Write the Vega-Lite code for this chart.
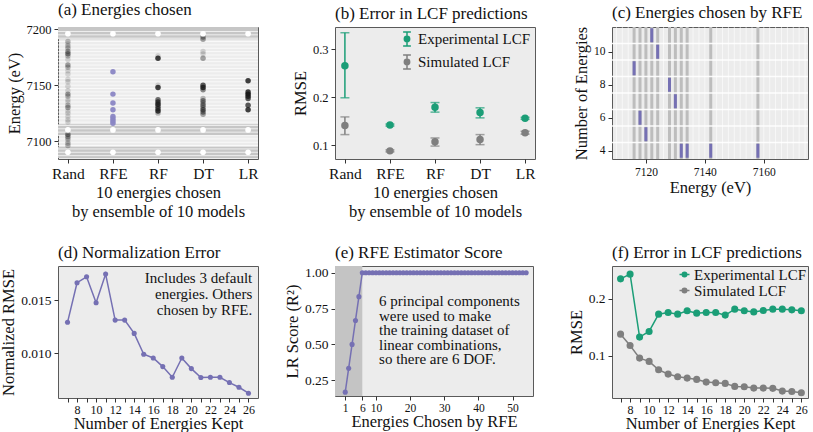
{
  "$schema": "https://vega.github.io/schema/vega-lite/v6.json",
  "padding": {"left": 0, "top": 0, "right": 2, "bottom": 0},
  "background": "white",
  "config": {
    "font": "Liberation Serif",
    "view": {"fill": "#ececec", "stroke": "#5a5a5a", "strokeWidth": 1},
    "axis": {"grid": false, "domain": false, "tickColor": "#333333", "tickSize": 4, "labelFont": "Liberation Serif", "titleFont": "Liberation Serif", "labelColor": "#111111", "titleColor": "#111111", "titleFontWeight": "normal", "titleFontSize": 16.5, "labelFontSize": 13, "labelPadding": 3, "titlePadding": 4, "labelOverlap": false},
    "title": {"font": "Liberation Serif", "fontSize": 17, "fontWeight": "normal", "anchor": "start", "frame": "group", "offset": 0, "color": "#111111"},
    "legend": {"labelFont": "Liberation Serif", "labelFontSize": 15, "labelColor": "#111111", "title": null}
  },
  "resolve": {
    "scale": {"color": "independent", "fill": "independent", "stroke": "independent", "opacity": "independent"},
    "legend": {"color": "independent", "fill": "independent", "stroke": "independent", "opacity": "independent"}
  },
  "datasets": {
    "aBands": [{"lo": 7085, "hi": 7095}, {"lo": 7105, "hi": 7115}, {"lo": 7191, "hi": 7202}],
    "aLines": [{"e": 7087}, {"e": 7090}, {"e": 7093}, {"e": 7096}, {"e": 7099}, {"e": 7102}, {"e": 7105}, {"e": 7108}, {"e": 7111}, {"e": 7114}, {"e": 7117}, {"e": 7120}, {"e": 7123}, {"e": 7126}, {"e": 7129}, {"e": 7132}, {"e": 7135}, {"e": 7138}, {"e": 7141}, {"e": 7144}, {"e": 7147}, {"e": 7150}, {"e": 7153}, {"e": 7156}, {"e": 7159}, {"e": 7162}, {"e": 7165}, {"e": 7168}, {"e": 7171}, {"e": 7174}, {"e": 7177}, {"e": 7180}, {"e": 7183}, {"e": 7186}, {"e": 7189}, {"e": 7192}, {"e": 7195}, {"e": 7198}],
    "aPts": [
      {"m": "Rand", "e": 7189, "n": 2}, {"m": "Rand", "e": 7187, "n": 1}, {"m": "Rand", "e": 7185, "n": 2}, {"m": "Rand", "e": 7183, "n": 2}, {"m": "Rand", "e": 7180, "n": 3}, {"m": "Rand", "e": 7178, "n": 4}, {"m": "Rand", "e": 7176, "n": 2}, {"m": "Rand", "e": 7173, "n": 1}, {"m": "Rand", "e": 7168, "n": 3}, {"m": "Rand", "e": 7166, "n": 2}, {"m": "Rand", "e": 7163, "n": 1}, {"m": "Rand", "e": 7160, "n": 1}, {"m": "Rand", "e": 7155, "n": 1}, {"m": "Rand", "e": 7153, "n": 1}, {"m": "Rand", "e": 7149, "n": 1}, {"m": "Rand", "e": 7145, "n": 1}, {"m": "Rand", "e": 7142, "n": 3}, {"m": "Rand", "e": 7140, "n": 2}, {"m": "Rand", "e": 7137, "n": 1}, {"m": "Rand", "e": 7135, "n": 1}, {"m": "Rand", "e": 7132, "n": 2}, {"m": "Rand", "e": 7130, "n": 3}, {"m": "Rand", "e": 7127, "n": 1}, {"m": "Rand", "e": 7125, "n": 1}, {"m": "Rand", "e": 7122, "n": 1}, {"m": "Rand", "e": 7119, "n": 1}, {"m": "Rand", "e": 7117, "n": 1}, {"m": "Rand", "e": 7106, "n": 4}, {"m": "Rand", "e": 7104, "n": 3}, {"m": "Rand", "e": 7102, "n": 2}, {"m": "Rand", "e": 7100, "n": 1}, {"m": "Rand", "e": 7098, "n": 2}, {"m": "Rand", "e": 7096, "n": 2},
      {"m": "RFE", "e": 7162, "n": 10}, {"m": "RFE", "e": 7142, "n": 10}, {"m": "RFE", "e": 7134, "n": 10}, {"m": "RFE", "e": 7128, "n": 10}, {"m": "RFE", "e": 7122, "n": 10}, {"m": "RFE", "e": 7120, "n": 10}, {"m": "RFE", "e": 7118, "n": 10}, {"m": "RFE", "e": 7116, "n": 10},
      {"m": "RF", "e": 7176, "n": 1}, {"m": "RF", "e": 7174, "n": 7}, {"m": "RF", "e": 7150, "n": 1}, {"m": "RF", "e": 7148, "n": 7}, {"m": "RF", "e": 7137, "n": 5}, {"m": "RF", "e": 7135, "n": 6}, {"m": "RF", "e": 7133, "n": 7}, {"m": "RF", "e": 7131, "n": 5}, {"m": "RF", "e": 7129, "n": 6}, {"m": "RF", "e": 7127, "n": 7}, {"m": "RF", "e": 7125, "n": 2},
      {"m": "DT", "e": 7193, "n": 3}, {"m": "DT", "e": 7191, "n": 3}, {"m": "DT", "e": 7180, "n": 1}, {"m": "DT", "e": 7178, "n": 1}, {"m": "DT", "e": 7174, "n": 3}, {"m": "DT", "e": 7150, "n": 6}, {"m": "DT", "e": 7148, "n": 7}, {"m": "DT", "e": 7146, "n": 4}, {"m": "DT", "e": 7138, "n": 2}, {"m": "DT", "e": 7136, "n": 4}, {"m": "DT", "e": 7134, "n": 3}, {"m": "DT", "e": 7132, "n": 4}, {"m": "DT", "e": 7130, "n": 3}, {"m": "DT", "e": 7128, "n": 5}, {"m": "DT", "e": 7126, "n": 4}, {"m": "DT", "e": 7124, "n": 3},
      {"m": "LR", "e": 7154, "n": 7}, {"m": "LR", "e": 7144, "n": 7}, {"m": "LR", "e": 7142, "n": 8}, {"m": "LR", "e": 7140, "n": 7}, {"m": "LR", "e": 7138, "n": 6}, {"m": "LR", "e": 7132, "n": 6}, {"m": "LR", "e": 7128, "n": 7}
    ],
    "aDef": [
      {"m": "Rand", "e": 7090}, {"m": "Rand", "e": 7110}, {"m": "Rand", "e": 7196},
      {"m": "RFE", "e": 7090}, {"m": "RFE", "e": 7110}, {"m": "RFE", "e": 7196},
      {"m": "RF", "e": 7090}, {"m": "RF", "e": 7110}, {"m": "RF", "e": 7196},
      {"m": "DT", "e": 7090}, {"m": "DT", "e": 7110}, {"m": "DT", "e": 7196},
      {"m": "LR", "e": 7090}, {"m": "LR", "e": 7110}, {"m": "LR", "e": 7196}
    ],
    "bData": [
      {"m": "Rand", "s": "Experimental LCF", "v": 0.266, "lo": 0.199, "hi": 0.335},
      {"m": "RFE", "s": "Experimental LCF", "v": 0.142, "lo": 0.140, "hi": 0.144},
      {"m": "RF", "s": "Experimental LCF", "v": 0.179, "lo": 0.169, "hi": 0.189},
      {"m": "DT", "s": "Experimental LCF", "v": 0.168, "lo": 0.157, "hi": 0.178},
      {"m": "LR", "s": "Experimental LCF", "v": 0.156, "lo": 0.154, "hi": 0.158},
      {"m": "Rand", "s": "Simulated LCF", "v": 0.141, "lo": 0.122, "hi": 0.159},
      {"m": "RFE", "s": "Simulated LCF", "v": 0.088, "lo": 0.086, "hi": 0.090},
      {"m": "RF", "s": "Simulated LCF", "v": 0.107, "lo": 0.098, "hi": 0.115},
      {"m": "DT", "s": "Simulated LCF", "v": 0.112, "lo": 0.101, "hi": 0.122},
      {"m": "LR", "s": "Simulated LCF", "v": 0.126, "lo": 0.123, "hi": 0.129}
    ],
    "cGrid": [{"e": 7110}, {"e": 7112}, {"e": 7114}, {"e": 7116}, {"e": 7118}, {"e": 7120}, {"e": 7122}, {"e": 7124}, {"e": 7126}, {"e": 7128}, {"e": 7130}, {"e": 7132}, {"e": 7134}, {"e": 7136}, {"e": 7138}, {"e": 7140}, {"e": 7142}, {"e": 7144}, {"e": 7146}, {"e": 7148}, {"e": 7150}, {"e": 7152}, {"e": 7154}, {"e": 7156}, {"e": 7158}, {"e": 7160}, {"e": 7162}, {"e": 7164}, {"e": 7166}, {"e": 7168}, {"e": 7170}, {"e": 7172}, {"e": 7174}],
    "cSel": [{"e": 7132, "n": 4}, {"e": 7134, "n": 4}, {"e": 7142, "n": 4}, {"e": 7158, "n": 4}, {"e": 7120, "n": 5}, {"e": 7118, "n": 6}, {"e": 7130, "n": 7}, {"e": 7128, "n": 8}, {"e": 7116, "n": 9}, {"e": 7124, "n": 10}, {"e": 7122, "n": 11}],
    "cRows": [{"y": 4.5}, {"y": 5.5}, {"y": 6.5}, {"y": 7.5}, {"y": 8.5}, {"y": 9.5}, {"y": 10.5}],
    "dData": [
      {"k": 7, "v": 0.01291}, {"k": 8, "v": 0.01663}, {"k": 9, "v": 0.01719}, {"k": 10, "v": 0.01475}, {"k": 11, "v": 0.01744}, {"k": 12, "v": 0.01312}, {"k": 13, "v": 0.01312}, {"k": 14, "v": 0.01187}, {"k": 15, "v": 0.00991}, {"k": 16, "v": 0.00956}, {"k": 17, "v": 0.00875}, {"k": 18, "v": 0.00775}, {"k": 19, "v": 0.00956}, {"k": 20, "v": 0.00856}, {"k": 21, "v": 0.00772}, {"k": 22, "v": 0.00775}, {"k": 23, "v": 0.00775}, {"k": 24, "v": 0.00725}, {"k": 25, "v": 0.00681}, {"k": 26, "v": 0.00625}
    ],
    "dText": [{"x": 26.4, "y": 0.01775, "t": "Includes 3 default\nenergies. Others\nchosen by RFE."}],
    "eShade": [{"lo": -2, "hi": 6}],
    "eData": [
      {"k": 1, "v": 0.167}, {"k": 2, "v": 0.333}, {"k": 3, "v": 0.5}, {"k": 4, "v": 0.667}, {"k": 5, "v": 0.833}, {"k": 6, "v": 1}, {"k": 7, "v": 1}, {"k": 8, "v": 1}, {"k": 9, "v": 1}, {"k": 10, "v": 1}, {"k": 11, "v": 1}, {"k": 12, "v": 1}, {"k": 13, "v": 1}, {"k": 14, "v": 1}, {"k": 15, "v": 1}, {"k": 16, "v": 1}, {"k": 17, "v": 1}, {"k": 18, "v": 1}, {"k": 19, "v": 1}, {"k": 20, "v": 1}, {"k": 21, "v": 1}, {"k": 22, "v": 1}, {"k": 23, "v": 1}, {"k": 24, "v": 1}, {"k": 25, "v": 1}, {"k": 26, "v": 1}, {"k": 27, "v": 1}, {"k": 28, "v": 1}, {"k": 29, "v": 1}, {"k": 30, "v": 1}, {"k": 31, "v": 1}, {"k": 32, "v": 1}, {"k": 33, "v": 1}, {"k": 34, "v": 1}, {"k": 35, "v": 1}, {"k": 36, "v": 1}, {"k": 37, "v": 1}, {"k": 38, "v": 1}, {"k": 39, "v": 1}, {"k": 40, "v": 1}, {"k": 41, "v": 1}, {"k": 42, "v": 1}, {"k": 43, "v": 1}, {"k": 44, "v": 1}, {"k": 45, "v": 1}, {"k": 46, "v": 1}, {"k": 47, "v": 1}, {"k": 48, "v": 1}, {"k": 49, "v": 1}, {"k": 50, "v": 1}, {"k": 51, "v": 1}, {"k": 52, "v": 1}, {"k": 53, "v": 1}, {"k": 54, "v": 1}
    ],
    "eText": [{"x": 10.9, "y": 0.85, "t": "6 principal components\nwere used to make\nthe training dataset of\nlinear combinations,\nso there are 6 DOF."}],
    "fData": [
      {"k": 7, "s": "Experimental LCF", "v": 0.2353}, {"k": 8, "s": "Experimental LCF", "v": 0.2436}, {"k": 9, "s": "Experimental LCF", "v": 0.1325}, {"k": 10, "s": "Experimental LCF", "v": 0.1425}, {"k": 11, "s": "Experimental LCF", "v": 0.173}, {"k": 12, "s": "Experimental LCF", "v": 0.176}, {"k": 13, "s": "Experimental LCF", "v": 0.173}, {"k": 14, "s": "Experimental LCF", "v": 0.1789}, {"k": 15, "s": "Experimental LCF", "v": 0.1748}, {"k": 16, "s": "Experimental LCF", "v": 0.176}, {"k": 17, "s": "Experimental LCF", "v": 0.176}, {"k": 18, "s": "Experimental LCF", "v": 0.1713}, {"k": 19, "s": "Experimental LCF", "v": 0.1818}, {"k": 20, "s": "Experimental LCF", "v": 0.1789}, {"k": 21, "s": "Experimental LCF", "v": 0.177}, {"k": 22, "s": "Experimental LCF", "v": 0.1795}, {"k": 23, "s": "Experimental LCF", "v": 0.1818}, {"k": 24, "s": "Experimental LCF", "v": 0.1818}, {"k": 25, "s": "Experimental LCF", "v": 0.1806}, {"k": 26, "s": "Experimental LCF", "v": 0.1789},
      {"k": 7, "s": "Simulated LCF", "v": 0.1377}, {"k": 8, "s": "Simulated LCF", "v": 0.1178}, {"k": 9, "s": "Simulated LCF", "v": 0.0954}, {"k": 10, "s": "Simulated LCF", "v": 0.0896}, {"k": 11, "s": "Simulated LCF", "v": 0.0748}, {"k": 12, "s": "Simulated LCF", "v": 0.0672}, {"k": 13, "s": "Simulated LCF", "v": 0.0624}, {"k": 14, "s": "Simulated LCF", "v": 0.0601}, {"k": 15, "s": "Simulated LCF", "v": 0.0578}, {"k": 16, "s": "Simulated LCF", "v": 0.0531}, {"k": 17, "s": "Simulated LCF", "v": 0.0519}, {"k": 18, "s": "Simulated LCF", "v": 0.0508}, {"k": 19, "s": "Simulated LCF", "v": 0.0455}, {"k": 20, "s": "Simulated LCF", "v": 0.0448}, {"k": 21, "s": "Simulated LCF", "v": 0.0425}, {"k": 22, "s": "Simulated LCF", "v": 0.0425}, {"k": 23, "s": "Simulated LCF", "v": 0.042}, {"k": 24, "s": "Simulated LCF", "v": 0.0372}, {"k": 25, "s": "Simulated LCF", "v": 0.0366}, {"k": 26, "s": "Simulated LCF", "v": 0.0342}
    ]
  },
  "columns": 3,
  "bounds": "flush",
  "spacing": {"row": 107, "column": 77},
  "concat": [
    {
      "width": 200, "height": 132,
      "title": "(a) Energies chosen",
      "layer": [
        {"data": {"name": "aBands"}, "mark": {"type": "rect", "color": "#c6c6c6"},
         "encoding": {
           "y": {"field": "lo", "type": "quantitative", "scale": {"domain": [7084, 7202], "nice": false, "zero": false}, "title": "Energy (eV)", "axis": {"values": [7100, 7150, 7200], "format": "d", "labelFontSize": 12.5}},
           "y2": {"field": "hi"}}},
        {"data": {"name": "aLines"}, "mark": {"type": "rule", "color": "white", "strokeWidth": 1, "opacity": 0.7},
         "encoding": {"y": {"field": "e", "type": "quantitative"}}},
        {"data": {"name": "aPts"}, "mark": {"type": "circle", "size": 30},
         "encoding": {
           "x": {"field": "m", "type": "nominal", "scale": {"type": "point", "domain": ["Rand", "RFE", "RF", "DT", "LR"], "padding": 0.22}, "title": ["10 energies chosen", "by ensemble of 10 models"], "axis": {"labelAngle": 0, "labelFontSize": 15.5, "titleLineHeight": 19, "titlePadding": 3}},
           "y": {"field": "e", "type": "quantitative"},
           "color": {"field": "m", "type": "nominal", "scale": {"domain": ["Rand", "RFE", "RF", "DT", "LR"], "range": ["#1a1a1a", "#8a86c4", "#1a1a1a", "#1a1a1a", "#1a1a1a"]}, "legend": null},
           "opacity": {"field": "n", "type": "quantitative", "scale": {"domain": [1, 8], "range": [0.15, 0.95], "clamp": true}, "legend": null}}},
        {"data": {"name": "aDef"}, "mark": {"type": "circle", "size": 32, "color": "white", "opacity": 1},
         "encoding": {"x": {"field": "m", "type": "nominal"}, "y": {"field": "e", "type": "quantitative"}}}
      ]
    },
    {
      "width": 200, "height": 132,
      "title": "(b) Error in LCF predictions",
      "data": {"name": "bData"},
      "encoding": {
        "x": {"field": "m", "type": "nominal", "scale": {"type": "point", "domain": ["Rand", "RFE", "RF", "DT", "LR"], "padding": 0.22}, "title": ["10 energies chosen", "by ensemble of 10 models"], "axis": {"labelAngle": 0, "labelFontSize": 15.5, "titleLineHeight": 19, "titlePadding": 3}}
      },
      "layer": [
        {"mark": {"type": "rule", "strokeWidth": 1.5},
         "encoding": {
           "y": {"field": "lo", "type": "quantitative", "scale": {"domain": [0.071, 0.347], "nice": false, "zero": false}, "title": "RMSE", "axis": {"values": [0.1, 0.2, 0.3], "format": ".1f", "labelFontSize": 12.5}},
           "y2": {"field": "hi"},
           "stroke": {"field": "s", "type": "nominal", "scale": {"domain": ["Experimental LCF", "Simulated LCF"], "range": ["#1b9e77", "#7f7f7f"]}, "legend": {"orient": "top-right", "offset": 4, "symbolType": "M-0.55,-1H0.55M0,-1V1M-0.55,1H0.55M-0.38,0A0.38,0.38,0,1,1,0.38,0A0.38,0.38,0,1,1,-0.38,0Z", "symbolSize": 200, "symbolStrokeWidth": 1.5, "rowPadding": 1, "labelOffset": 3}}}},
        {"mark": {"type": "tick", "size": 9, "thickness": 1.5},
         "encoding": {"y": {"field": "lo", "type": "quantitative"}, "fill": {"field": "s", "type": "nominal", "scale": {"domain": ["Experimental LCF", "Simulated LCF"], "range": ["#1b9e77", "#7f7f7f"]}, "legend": {"orient": "top-right", "offset": 4, "symbolType": "M-0.55,-1H0.55M0,-1V1M-0.55,1H0.55M-0.38,0A0.38,0.38,0,1,1,0.38,0A0.38,0.38,0,1,1,-0.38,0Z", "symbolSize": 200, "symbolStrokeWidth": 1.5, "rowPadding": 1, "labelOffset": 3}}}},
        {"mark": {"type": "tick", "size": 9, "thickness": 1.5},
         "encoding": {"y": {"field": "hi", "type": "quantitative"}, "fill": {"field": "s", "type": "nominal", "scale": {"domain": ["Experimental LCF", "Simulated LCF"], "range": ["#1b9e77", "#7f7f7f"]}, "legend": {"orient": "top-right", "offset": 4, "symbolType": "M-0.55,-1H0.55M0,-1V1M-0.55,1H0.55M-0.38,0A0.38,0.38,0,1,1,0.38,0A0.38,0.38,0,1,1,-0.38,0Z", "symbolSize": 200, "symbolStrokeWidth": 1.5, "rowPadding": 1, "labelOffset": 3}}}},
        {"mark": {"type": "point", "filled": true, "size": 30, "shape": "circle", "opacity": 1},
         "encoding": {
           "y": {"field": "v", "type": "quantitative"},
           "fill": {"field": "s", "type": "nominal", "scale": {"domain": ["Experimental LCF", "Simulated LCF"], "range": ["#1b9e77", "#7f7f7f"]}, "legend": {"orient": "top-right", "offset": 4, "symbolType": "M-0.55,-1H0.55M0,-1V1M-0.55,1H0.55M-0.38,0A0.38,0.38,0,1,1,0.38,0A0.38,0.38,0,1,1,-0.38,0Z", "symbolSize": 200, "symbolStrokeWidth": 1.5, "rowPadding": 1, "labelOffset": 3}},
           "stroke": {"field": "s", "type": "nominal", "scale": {"domain": ["Experimental LCF", "Simulated LCF"], "range": ["#1b9e77", "#7f7f7f"]}, "legend": {"orient": "top-right", "offset": 4, "symbolType": "M-0.55,-1H0.55M0,-1V1M-0.55,1H0.55M-0.38,0A0.38,0.38,0,1,1,0.38,0A0.38,0.38,0,1,1,-0.38,0Z", "symbolSize": 200, "symbolStrokeWidth": 1.5, "rowPadding": 1, "labelOffset": 3}}}}
      ]
    },
    {
      "width": 196, "height": 132,
      "title": "(c) Energies chosen by RFE",
      "layer": [
        {"data": {"name": "cGrid"}, "mark": {"type": "rule", "color": "white", "strokeWidth": 1, "opacity": 0.6},
         "encoding": {"x": {"field": "e", "type": "quantitative", "scale": {"domain": [7108.5, 7175], "nice": false, "zero": false}, "title": "Energy (eV)", "axis": {"values": [7120, 7140, 7160], "format": "d", "labelFontSize": 11.5, "titlePadding": 2}}}},
        {"data": {"name": "cSel"}, "mark": {"type": "rule", "color": "#bdbdbd", "strokeWidth": 3},
         "encoding": {"x": {"field": "e", "type": "quantitative"}}},
        {"data": {"name": "cRows"}, "mark": {"type": "rule", "color": "white", "strokeWidth": 1.5, "opacity": 0.9},
         "encoding": {"y": {"field": "y", "type": "quantitative", "scale": {"domain": [3.5, 11.5], "nice": false, "zero": false}, "title": "Number of Energies", "axis": {"values": [4, 5, 6, 7, 8, 9, 10, 11], "labelFontSize": 11.5}}}},
        {"data": {"name": "cSel"}, "mark": {"type": "tick", "orient": "vertical", "color": "#7570b3", "size": 14, "thickness": 3, "opacity": 1},
         "encoding": {"x": {"field": "e", "type": "quantitative"}, "y": {"field": "n", "type": "quantitative"}}}
      ]
    },
    {
      "width": 200, "height": 132,
      "title": "(d) Normalization Error",
      "data": {"name": "dData"},
      "encoding": {
        "x": {"field": "k", "type": "quantitative", "scale": {"domain": [6, 27], "nice": false, "zero": false}, "title": "Number of Energies Kept", "axis": {"values": [7, 8, 9, 10, 11, 12, 13, 14, 15, 16, 17, 18, 19, 20, 21, 22, 23, 24, 25, 26], "labelExpr": "datum.value % 2 == 0 ? datum.label : ''", "labelOverlap": false, "labelFontSize": 12, "labelPadding": 2, "titlePadding": 0}},
        "y": {"field": "v", "type": "quantitative", "scale": {"domain": [0.0058, 0.0182], "nice": false, "zero": false}, "title": "Normalized RMSE", "axis": {"values": [0.01, 0.015], "format": ".3f", "labelFontSize": 13.5}}
      },
      "layer": [
        {"mark": {"type": "line", "color": "#7570b3", "strokeWidth": 1.5}},
        {"mark": {"type": "circle", "color": "#7570b3", "size": 26, "opacity": 1}},
        {"data": {"name": "dText"}, "mark": {"type": "text", "align": "right", "baseline": "top", "fontSize": 15, "lineHeight": 16, "lineBreak": "\n", "color": "#111111"},
         "encoding": {"x": {"field": "x", "type": "quantitative"}, "y": {"field": "y", "type": "quantitative"}, "text": {"field": "t"}}}
      ]
    },
    {
      "width": 198, "height": 130,
      "title": "(e) RFE Estimator Score",
      "encoding": {
        "x": {"field": "k", "type": "quantitative", "scale": {"domain": [-2, 56], "nice": false, "zero": false}, "title": "Energies Chosen by RFE", "axis": {"values": [1, 6, 10, 20, 30, 40, 50], "labelOverlap": false, "labelFontSize": 11.5, "labelPadding": 2, "titlePadding": 0}},
        "y": {"field": "v", "type": "quantitative", "scale": {"domain": [0.14, 1.047], "nice": false, "zero": false}, "title": "LR Score (R²)", "axis": {"values": [0.25, 0.5, 0.75, 1.0], "format": ".2f", "labelFontSize": 13.5}}
      },
      "layer": [
        {"data": {"name": "eShade"}, "mark": {"type": "rect", "color": "#c4c4c4"},
         "encoding": {"x": {"field": "lo", "type": "quantitative"}, "x2": {"field": "hi"}, "y": null}},
        {"data": {"name": "eData"}, "mark": {"type": "line", "color": "#7570b3", "strokeWidth": 1.5}},
        {"data": {"name": "eData"}, "mark": {"type": "circle", "color": "#7570b3", "size": 26, "opacity": 1}},
        {"data": {"name": "eText"}, "mark": {"type": "text", "align": "left", "baseline": "top", "fontSize": 15, "lineHeight": 14.5, "lineBreak": "\n", "color": "#111111"},
         "encoding": {"x": {"field": "x", "type": "quantitative"}, "y": {"field": "y", "type": "quantitative"}, "text": {"field": "t"}}}
      ]
    },
    {
      "width": 196, "height": 132,
      "title": "(f) Error in LCF predictions",
      "data": {"name": "fData"},
      "encoding": {
        "x": {"field": "k", "type": "quantitative", "scale": {"domain": [6.1, 26.7], "nice": false, "zero": false}, "title": "Number of Energies Kept", "axis": {"values": [7, 8, 9, 10, 11, 12, 13, 14, 15, 16, 17, 18, 19, 20, 21, 22, 23, 24, 25, 26], "labelExpr": "datum.value % 2 == 0 ? datum.label : ''", "labelOverlap": false, "labelFontSize": 12, "labelPadding": 2, "titlePadding": 0}},
        "y": {"field": "v", "type": "quantitative", "scale": {"domain": [0.025, 0.258], "nice": false, "zero": false}, "title": "RMSE", "axis": {"values": [0.1, 0.2], "format": ".1f", "labelFontSize": 13.5}}
      },
      "layer": [
        {"mark": {"type": "line", "strokeWidth": 1.5},
         "encoding": {
           "stroke": {"field": "s", "type": "nominal", "scale": {"domain": ["Experimental LCF", "Simulated LCF"], "range": ["#1b9e77", "#7f7f7f"]}, "legend": {"orient": "top-right", "offset": 1, "symbolType": "M-1,0H1M-0.45,0A0.45,0.45,0,1,1,0.45,0A0.45,0.45,0,1,1,-0.45,0Z", "symbolSize": 100, "symbolStrokeWidth": 1.5, "rowPadding": 0, "labelOffset": 2}}}},
        {"mark": {"type": "point", "filled": true, "shape": "circle", "size": 26, "opacity": 1},
         "encoding": {
           "fill": {"field": "s", "type": "nominal", "scale": {"domain": ["Experimental LCF", "Simulated LCF"], "range": ["#1b9e77", "#7f7f7f"]}, "legend": {"orient": "top-right", "offset": 1, "symbolType": "M-1,0H1M-0.45,0A0.45,0.45,0,1,1,0.45,0A0.45,0.45,0,1,1,-0.45,0Z", "symbolSize": 100, "symbolStrokeWidth": 1.5, "rowPadding": 0, "labelOffset": 2}},
           "stroke": {"field": "s", "type": "nominal", "scale": {"domain": ["Experimental LCF", "Simulated LCF"], "range": ["#1b9e77", "#7f7f7f"]}, "legend": {"orient": "top-right", "offset": 1, "symbolType": "M-1,0H1M-0.45,0A0.45,0.45,0,1,1,0.45,0A0.45,0.45,0,1,1,-0.45,0Z", "symbolSize": 100, "symbolStrokeWidth": 1.5, "rowPadding": 0, "labelOffset": 2}}}}
      ]
    }
  ]
}
